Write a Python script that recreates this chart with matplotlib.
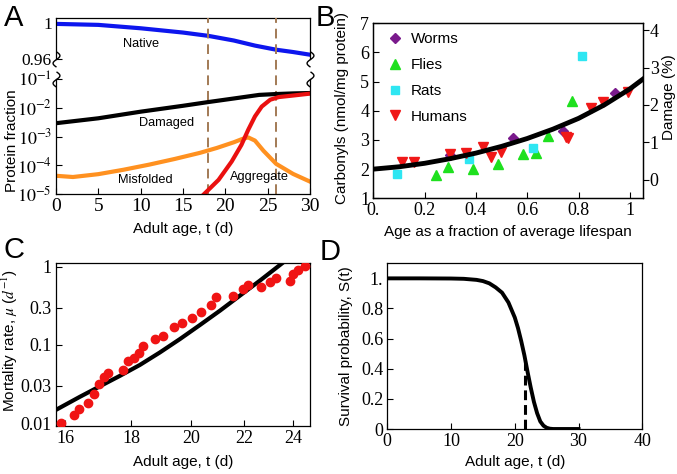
import numpy as np
import matplotlib
matplotlib.use("Agg")
import matplotlib.pyplot as plt
from matplotlib.path import Path

plt.rcParams['font.family'] = ['Liberation Sans', 'DejaVu Sans']
plt.rcParams['mathtext.fontset'] = 'stix'
plt.rcParams['axes.linewidth'] = 0.9

SERIF = 'Liberation Serif'

# ---- panel A: protein fractions vs adult age
t_native = [0, 5, 10, 15, 18, 21, 23.5, 26, 28, 30]
native = [0.9993, 0.9982, 0.9944, 0.9896, 0.9859, 0.9807, 0.9750, 0.9704, 0.9678, 0.9648]

t_damaged = [0, 5, 10, 15, 18, 21, 24, 26, 28, 30]
damaged = [2.9e-3, 4.3e-3, 7.3e-3, 1.17e-2, 1.58e-2, 2.1e-2, 2.8e-2, 3.0e-2, 3.15e-2, 3.25e-2]

t_misfolded = [0, 2, 5, 8, 11, 14, 17, 19, 21, 22, 22.7, 23.5, 24.5, 26, 28, 30]
misfolded = [4.3e-5, 3.9e-5, 4.9e-5, 7.0e-5, 1.05e-4, 1.65e-4, 2.7e-4, 4.0e-4, 6.3e-4,
             8.2e-4, 9.3e-4, 7.2e-4, 3.2e-4, 1.12e-4, 5.0e-5, 2.7e-5]

t_aggregate = [17.5, 19.2, 20.75, 21.9, 22.7, 23.5, 24.3, 25.3, 26.3, 28.2, 30]
aggregate = [1.0e-5, 3.1e-5, 1.35e-4, 5.1e-4, 1.7e-3, 5.0e-3, 1.1e-2, 1.9e-2, 2.35e-2, 2.7e-2, 3.1e-2]

transition_days = [18, 26]

# ---- panel B: carbonyls vs fraction of lifespan
worms_x = [0.30, 0.545, 0.738, 0.942]
worms_y = [2.48, 3.06, 3.32, 4.62]
flies_x = [0.243, 0.292, 0.387, 0.486, 0.582, 0.633, 0.679, 0.775]
flies_y = [1.80, 2.08, 2.00, 2.18, 2.51, 2.54, 3.14, 4.35]
rats_x = [0.091, 0.374, 0.623, 0.812]
rats_y = [1.83, 2.36, 2.71, 5.89]
humans_x = [0.111, 0.160, 0.299, 0.361, 0.426, 0.459, 0.497, 0.751, 0.760, 0.847, 0.896, 0.993]
humans_y = [2.25, 2.25, 2.51, 2.56, 2.77, 2.43, 2.58, 3.09, 3.06, 4.09, 4.29, 4.65]

fit_x = [0, 0.1, 0.2, 0.3, 0.4, 0.5, 0.6, 0.7, 0.8, 0.9, 1.0, 1.05]
fit_y = [2.0, 2.08, 2.2, 2.36, 2.55, 2.78, 3.05, 3.37, 3.74, 4.2, 4.75, 5.08]

# ---- panel C: mortality rate
mort_t = [15.87, 16.24, 16.40, 16.67, 16.84, 16.99, 17.15, 17.27, 17.72, 17.90, 18.07, 18.25,
          18.38, 18.78, 19.05, 19.42, 19.68, 20.06, 20.37, 20.73, 20.92, 21.54, 21.94, 22.16,
          22.66, 23.03, 23.26, 23.87, 24.00, 24.19, 24.48]
mort_mu = [0.0100, 0.0128, 0.0152, 0.018, 0.0235, 0.0315, 0.039, 0.044, 0.048, 0.0625, 0.069,
           0.078, 0.098, 0.118, 0.130, 0.168, 0.189, 0.219, 0.262, 0.324, 0.406, 0.426, 0.514,
           0.583, 0.545, 0.632, 0.711, 0.662, 0.80, 0.91, 1.03]

model_t = [15.74, 16.42, 17.01, 17.63, 18.27, 18.93, 19.62, 20.33, 21.07, 21.83, 22.62, 23.58]
model_mu = [0.0148, 0.0217, 0.0295, 0.0402, 0.0555, 0.0801, 0.119, 0.180, 0.275, 0.428, 0.666, 1.14]

# ---- panel D: survival
surv_t = [0, 5, 10, 12, 14, 15, 16, 17, 18, 19, 20, 20.5, 21, 21.5, 22, 22.5, 23, 23.5, 24,
          24.5, 25, 25.5, 26, 28, 30]
surv_s = [1, 1, 0.999, 0.997, 0.99, 0.982, 0.967, 0.94, 0.905, 0.84, 0.74, 0.67, 0.585, 0.49,
          0.38, 0.275, 0.18, 0.105, 0.05, 0.022, 0.008, 0.002, 0, 0, 0]
median_day = 21.6
median_surv = 0.468

W, H = 677, 474
fig = plt.figure(figsize=(W / 100, H / 100), dpi=100)


def box(l, t, r, b):
    return [l / W, 1 - b / H, (r - l) / W, (b - t) / H]


def ticks_in(ax):
    ax.tick_params(direction='in', length=4, width=0.8, top=False, right=False, pad=3)


# S-shaped axis-break glyph
sq = np.linspace(-1, 1, 25)
squiggle = Path(np.column_stack([0.45 * np.sin(np.pi * sq), sq]))

# ================= A
ax_up = fig.add_axes(box(56, 18, 310, 59))
ax_lo = fig.add_axes(box(56, 79, 310, 194))

ax_up.plot(t_native, native, color='#0d16ee', lw=3)
ax_up.set_xlim(0, 30)
ax_up.set_ylim(0.96, 1.0059)
ax_up.spines['bottom'].set_visible(False)
ax_up.set_xticks([])
ax_up.set_yticks([0.96, 1], ['0.96', '1'], fontfamily=SERIF, fontsize=12.5)
ticks_in(ax_up)
ax_up.text(10, 0.977, 'Native', ha='center', va='center', fontsize=9.2)

ax_lo.plot(t_damaged, damaged, color='black', lw=3)
ax_lo.plot(t_misfolded, misfolded, color='#ff9120', lw=3)
ax_lo.plot(t_aggregate, aggregate, color='#ea1010', lw=3)
ax_lo.set_yscale('log')
ax_lo.set_xlim(0, 30)
ax_lo.set_ylim(1e-5, 1e-1)
ax_lo.spines['top'].set_visible(False)
ax_lo.minorticks_off()
ax_lo.set_yticks([1e-5, 1e-4, 1e-3, 1e-2, 1e-1],
                 [r'$10^{-5}$', r'$10^{-4}$', r'$10^{-3}$', r'$10^{-2}$', r'$10^{-1}$'], fontsize=13)
ax_lo.set_xticks(range(0, 31, 5), [str(v) for v in range(0, 31, 5)], fontfamily=SERIF, fontsize=14)
ticks_in(ax_lo)
ax_lo.set_xlabel('Adult age, t (d)', fontsize=11)
ax_lo.xaxis.set_label_coords(0.5, -0.243)
ax_lo.set_ylabel('Protein fraction', fontsize=11)
ax_lo.yaxis.set_label_coords(-0.146, 0.46)
ax_lo.text(13, 2.9e-3, 'Damaged', ha='center', va='center', fontsize=9.2)
ax_lo.text(10.5, 3.1e-5, 'Misfolded', ha='center', va='center', fontsize=9.2)
ax_lo.text(24.0, 4.0e-5, 'Aggregate', ha='center', va='center', fontsize=9.2)

span = (194 - 18) / (194 - 79)
for d in transition_days:
    ax_lo.axvline(d, ymin=0, ymax=span, clip_on=False, color='#a27a55', lw=1.4,
                  ls=(0, (5, 3)), zorder=0)

# break marks
for ax_, y_ in [(ax_up, 0), (ax_lo, 1)]:
    ax_.plot([0, 1], [y_, y_], transform=ax_.transAxes, ls='none', marker=squiggle,
             ms=11, mew=1.0, mec='black', mfc='none', clip_on=False)

# ================= B
axB = fig.add_axes(box(373.3, 23.3, 642.7, 198.3))
axB.plot(fit_x, fit_y, color='black', lw=3.5, zorder=3)
axB.plot(worms_x, worms_y, 'D', color='#7a1a8c', ms=5.5, ls='none', label='Worms', zorder=2)
axB.plot(flies_x, flies_y, '^', color='#1ee01e', ms=7, ls='none', label='Flies', zorder=2)
axB.plot(rats_x, rats_y, 's', color='#2ee6f2', ms=5.5, ls='none', label='Rats', zorder=2)
axB.plot(humans_x, humans_y, 'v', color='#f01818', ms=7, ls='none', label='Humans', zorder=2)
axB.set_xlim(0, 1.05)
axB.set_ylim(1, 7)
axB.set_xticks([0, 0.2, 0.4, 0.6, 0.8, 1], ['0.', '0.2', '0.4', '0.6', '0.8', '1'],
               fontfamily=SERIF, fontsize=13)
axB.set_yticks(range(1, 8), [str(v) for v in range(1, 8)], fontfamily=SERIF, fontsize=13)
ticks_in(axB)
axB.set_ylabel('Carbonyls (nmol/mg protein)', fontsize=11)
axB.yaxis.set_label_coords(-0.09, 0.515)
axB.set_xlabel('Age as a fraction of average lifespan', fontsize=11)
axB.xaxis.set_label_coords(0.5, -0.153)
axB.legend(loc='upper left', bbox_to_anchor=(0.03, 0.985), frameon=False, fontsize=11,
           handlelength=1.0, handletextpad=0.55, labelspacing=0.78, borderaxespad=0)

axB2 = axB.twinx()
axB2.set_ylim(-0.49, 4.18)
axB2.set_yticks(range(0, 5), [str(v) for v in range(0, 5)], fontfamily=SERIF, fontsize=13)
axB2.tick_params(direction='out', length=4, width=0.8, pad=1)
axB2.set_ylabel('Damage (%)', fontsize=11)
axB2.yaxis.set_label_coords(1.0705, 0.576)

# ================= C
axC = fig.add_axes(box(56, 262.7, 310, 426))
axC.plot(model_t, model_mu, color='black', lw=3, zorder=2)
axC.plot(mort_t, mort_mu, 'o', color='#f01414', ms=6, ls='none', zorder=3)
axC.set_xscale('log')
axC.set_yscale('log')
axC.set_xlim(15.74, 24.72)
axC.set_ylim(0.0092, 1.125)
axC.minorticks_off()
axC.set_xticks([16, 18, 20, 22, 24], ['16', '18', '20', '22', '24'], fontfamily=SERIF, fontsize=13)
axC.set_yticks([0.01, 0.03, 0.1, 0.3, 1], ['0.01', '0.03', '0.1', '0.3', '1'],
               fontfamily=SERIF, fontsize=13)
ticks_in(axC)
axC.set_xlabel('Adult age, t (d)', fontsize=11)
axC.xaxis.set_label_coords(0.5, -0.175)
axC.set_ylabel(r'Mortality rate, $\mu$ ($d^{-1}$)', fontsize=11)
axC.yaxis.set_label_coords(-0.142, 0.524)

# ================= D
axD = fig.add_axes(box(387.3, 263.3, 642.3, 429))
axD.plot(surv_t, surv_s, color='black', lw=2.8)
axD.plot([median_day, median_day], [0, median_surv], color='black', lw=2.2, ls=(0, (3.2, 1.6)))
axD.set_xlim(0, 40)
axD.set_ylim(0, 1.1)
axD.set_xticks(range(0, 41, 10), [str(v) for v in range(0, 41, 10)], fontfamily=SERIF, fontsize=13)
axD.set_yticks([0, 0.2, 0.4, 0.6, 0.8, 1], ['0', '0.2', '0.4', '0.6', '0.8', '1.'],
               fontfamily=SERIF, fontsize=13)
ticks_in(axD)
axD.set_xlabel('Adult age, t (d)', fontsize=11)
axD.xaxis.set_label_coords(0.5, -0.154)
axD.set_ylabel('Survival probability, S(t)', fontsize=11)
axD.yaxis.set_label_coords(-0.134, 0.5)

# panel letters
for lab, x, y in [('A', 14, 18), ('B', 325, 18), ('C', 14, 250), ('D', 330, 252)]:
    fig.text(x / W, 1 - y / H, lab, fontsize=21, ha='center', va='center')

fig.savefig('out.png', dpi=100)
